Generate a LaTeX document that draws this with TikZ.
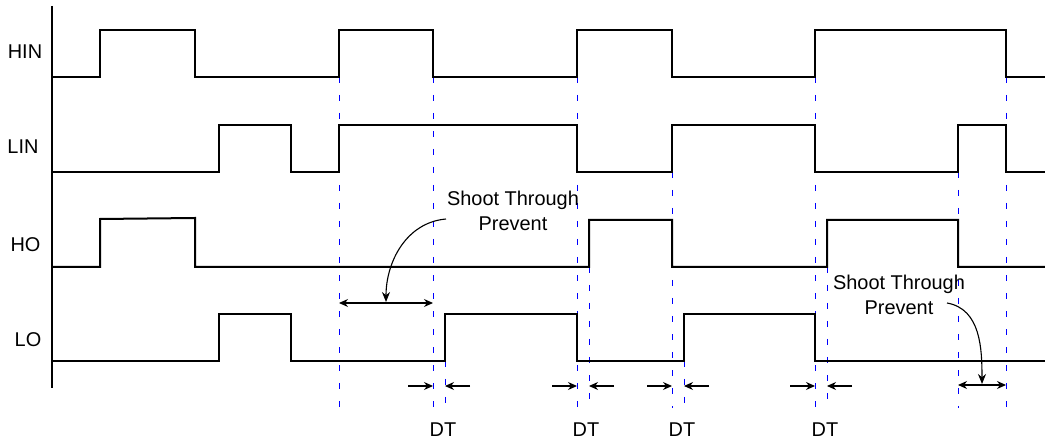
\documentclass[tikz,border=0pt]{standalone}
\usepackage{fontspec}
\setmainfont{Liberation Sans}
\usepackage{tikz}
\usetikzlibrary{arrows.meta,calc,positioning}

\begin{document}
\begin{tikzpicture}[x=1bp,y=-1bp,
    font=\fontsize{20}{25}\selectfont,
    wave/.style={line width=2bp, line join=miter},
    guide/.style={blue, line width=1.1bp, dash pattern=on 6bp off 12bp},
    dimline/.style={line width=1.2bp, -{Stealth[length=9bp,width=8bp]}},
    dimboth/.style={line width=1.2bp, {Stealth[length=9bp,width=8bp]}-{Stealth[length=9bp,width=8bp]}},
    curvearrow/.style={line width=1.1bp, -{Stealth[length=10bp,width=8bp]}}]
            \useasboundingbox (0,0) rectangle (1045,444);
            \def\lowend{408}
            % time axis
            \draw[wave] (52,6) -- (52,388);
            % signal names
            \node (hin) at (25,52) {HIN};
            \node (lin) at (23,147) {LIN};
            \node (ho) at (25.5,245) {HO};
            \node (lo) at (28,340) {LO};
            % guide lines at the edges
            \draw[guide] (339.5,77) -- (339.5,\lowend);
            \draw[guide] (433.5,77) -- (433.5,\lowend);
            \draw[guide] (445.5,361) -- (445.5,\lowend);
            \draw[guide] (577.5,77) -- (577.5,\lowend);
            \draw[guide] (589.5,267) -- (589.5,\lowend);
            \draw[guide] (672.5,172) -- (672.5,\lowend);
            \draw[guide] (684.5,361) -- (684.5,\lowend);
            \draw[guide] (815.5,77) -- (815.5,\lowend);
            \draw[guide] (827.5,267) -- (827.5,\lowend);
            \draw[guide] (958.5,172) -- (958.5,\lowend);
            \draw[guide] (1006.5,77) -- (1006.5,\lowend);
            % waveforms
            \draw[wave] (52,77) -| (100,30) -| (195,77) -| (339,30) -| (433,77) -| (577,30) -| (672,77) -| (815,30) -| (1006,77) -- (1045,77);
            \draw[wave] (52,172) -| (219,125) -| (291,172) -| (339,125) -| (577,172) -| (672,125) -| (815,172) -| (958,125) -| (1006,172) -- (1045,172);
            \draw[wave] (52,267) -| (100,219) -- (195,218) -- (195,267) -| (589,220) -| (672,267) -| (827,220) -| (958,267) -- (1045,267);
            \draw[wave] (52,361) -| (219,314) -| (291,361) -| (445,314) -| (577,361) -| (684,314) -| (815,361) -- (1045,361);
            % dead time markers
            \coordinate (a1) at (433,386);
            \coordinate (b1) at (445,386);
            \coordinate (a2) at (577,386);
            \coordinate (b2) at (589,386);
            \coordinate (a3) at (672,386);
            \coordinate (b3) at (684,386);
            \coordinate (a4) at (815,386);
            \coordinate (b4) at (827,386);
            \draw[dimline] ($(a1)+(-25,0)$) -- (a1);
            \draw[dimline] ($(b1)+(25,0)$) -- (b1);
            \draw[dimline] ($(a2)+(-25,0)$) -- (a2);
            \draw[dimline] ($(b2)+(25,0)$) -- (b2);
            \draw[dimline] ($(a3)+(-25,0)$) -- (a3);
            \draw[dimline] ($(b3)+(25,0)$) -- (b3);
            \draw[dimline] ($(a4)+(-25,0)$) -- (a4);
            \draw[dimline] ($(b4)+(25,0)$) -- (b4);
            \node (dt1) at (443,430) {DT};
            \node (dt2) at (586,430) {DT};
            \node (dt3) at (682,430) {DT};
            \node (dt4) at (825,430) {DT};
            % shoot through windows
            \coordinate (sp1a) at (339,303);
            \coordinate (sp1b) at (433,303);
            \coordinate (sp2a) at (958,385);
            \coordinate (sp2b) at (1006,385);
            \draw[dimboth] (sp1a) -- (sp1b);
            \draw[dimboth] (sp2a) -- (sp2b);
            \node[align=center] (stp1) at (513,211) {Shoot Through\\Prevent};
            \node[align=center] (stp2) at (899,295) {Shoot Through\\Prevent};
            \coordinate (c1) at (446,219);
            \coordinate (c2) at (947,303);
            \draw[curvearrow] (c1) to[out=185,in=90] ($(sp1a)!0.5!(sp1b)+(0,-1)$);
            \draw[curvearrow] (c2) to[out=-10,in=90] ($(sp2a)!0.5!(sp2b)+(0,-1)$);
          \end{tikzpicture}
\end{document}
